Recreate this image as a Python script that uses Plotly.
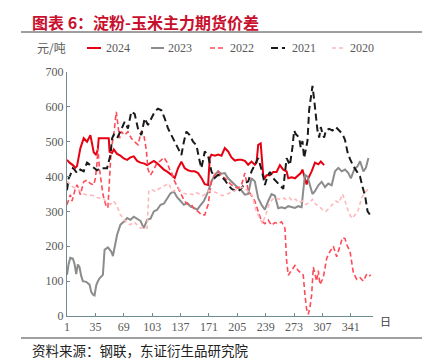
import plotly.graph_objects as go

# ---------------- data ----------------
d2024 = [1, 4, 8, 11, 13, 15, 17, 21, 25, 29, 31, 33, 36, 38, 39, 51, 52, 55, 57, 61, 65, 69, 73, 77, 81, 85, 89, 93,
         97, 101, 105, 109, 113, 117, 121, 124, 126, 130, 134, 138, 142, 146, 150, 154, 158, 162, 166, 170, 172, 174,
         178, 182, 186, 190, 194, 198, 202, 206, 210, 214, 218, 222, 226, 228, 230, 233, 236, 238, 240, 244, 248, 252,
         256, 260, 264, 266, 270, 274, 278, 281, 283, 286, 288, 290, 294, 298, 302, 305, 309]
v2024 = [448, 440, 433, 425, 430, 455, 481, 510, 500, 519, 495, 470, 462, 480, 510, 510, 471, 468, 478, 465, 460, 452,
         448, 455, 458, 445, 440, 438, 433, 440, 445, 438, 428, 420, 414, 410, 405, 396, 424, 443, 424, 418, 415, 415,
         410, 396, 378, 376, 453, 463, 460, 463, 460, 482, 472, 455, 446, 448, 448, 445, 434, 443, 434, 440, 491, 495,
         404, 396, 404, 404, 413, 413, 433, 420, 415, 395, 398, 395, 404, 410, 420, 395, 377, 395, 415, 440, 435, 443,
         433]

d2023 = [1, 3, 5, 8, 10, 12, 14, 16, 18, 20, 24, 28, 30, 32, 34, 36, 38, 40, 44, 46, 50, 54, 56, 59, 61, 65, 69, 73,
         77, 81, 85, 89, 93, 97, 101, 105, 109, 113, 117, 121, 125, 129, 133, 137, 141, 145, 149, 153, 157, 161, 165,
         170, 174, 178, 182, 186, 190, 194, 198, 202, 206, 210, 214, 218, 222, 226, 230, 234, 238, 242, 246, 250, 254,
         258, 262, 266, 270, 274, 278, 282, 284, 286, 289, 292, 295, 298, 302, 306, 310, 314, 318, 322, 326, 330, 334,
         338, 341, 345, 349, 352, 356, 359, 362]
v2023 = [118, 150, 167, 165, 150, 120, 148, 140, 115, 100, 98, 90, 69, 62, 59, 88, 100, 108, 118, 190, 197, 185, 172,
         207, 233, 262, 270, 281, 276, 285, 279, 273, 252, 276, 279, 300, 305, 319, 322, 338, 352, 357, 340, 330, 319,
         324, 314, 310, 305, 318, 330, 357, 386, 405, 415, 408, 410, 395, 385, 376, 367, 360, 348, 350, 395, 386, 338,
         319, 305, 330, 350, 345, 309, 312, 309, 315, 312, 310, 315, 312, 360, 405, 400, 375, 350, 358, 375, 385, 370,
         380, 375, 415, 425, 415, 420, 410, 395, 420, 430, 444, 415, 425, 453]

d2022 = [1, 3, 5, 7, 9, 11, 13, 15, 17, 19, 21, 25, 29, 33, 35, 37, 38, 40, 42, 44, 46, 48, 50, 52, 54, 57, 60, 62, 64,
         66, 70, 74, 78, 82, 86, 88, 90, 93, 96, 98, 101, 105, 109, 113, 117, 121, 124, 126, 128, 130, 134, 138, 142,
         146, 150, 154, 158, 162, 166, 170, 174, 178, 182, 186, 190, 194, 198, 202, 206, 210, 214, 218, 222, 226, 230,
         234, 238, 242, 246, 250, 254, 258, 262, 264, 266, 270, 274, 278, 282, 284, 286, 288, 290, 292, 294, 296, 298,
         300, 302, 304, 308, 312, 316, 320, 324, 328, 331, 334, 336, 340, 344, 348, 352, 356, 360, 363, 365]
v2022 = [319, 335, 348, 330, 350, 365, 376, 365, 348, 370, 385, 390, 380, 376, 395, 440, 481, 420, 380, 350, 330, 315,
         310, 390, 480, 520, 586, 548, 510, 529, 519, 529, 510, 500, 491, 510, 530, 520, 476, 420, 404, 420, 440, 445,
         455, 440, 420, 415, 395, 386, 367, 348, 329, 320, 319, 305, 300, 290, 290, 320, 386, 405, 415, 400, 396, 386,
         376, 370, 367, 376, 410, 360, 345, 330, 300, 272, 265, 275, 260, 268, 265, 270, 252, 160, 117, 130, 145, 130,
         120, 117, 60, 20, 5, 25, 60, 140, 120, 100, 130, 90, 110, 165, 185, 200, 170, 200, 225, 222, 205, 185, 124,
         105, 110, 100, 120, 115, 118]

d2021 = [1, 3, 5, 8, 10, 13, 17, 21, 25, 29, 33, 37, 41, 45, 49, 53, 55, 57, 61, 65, 70, 74, 78, 82, 86, 90, 94, 98,
         102, 106, 110, 114, 118, 122, 126, 130, 134, 138, 141, 144, 148, 152, 156, 158, 160, 162, 166, 170, 174, 178,
         182, 186, 190, 194, 198, 202, 206, 210, 214, 218, 222, 226, 230, 234, 238, 241, 244, 248, 252, 256, 260, 264,
         268, 271, 273, 275, 279, 281, 283, 285, 287, 289, 291, 293, 295, 297, 299, 301, 303, 305, 307, 309, 311, 315,
         319, 323, 327, 331, 334, 337, 340, 344, 348, 352, 355, 358, 361, 364]
v2021 = [361, 395, 405, 424, 420, 410, 420, 415, 440, 433, 424, 418, 424, 424, 424, 462, 510, 520, 510, 530, 557, 538,
         586, 580, 538, 519, 567, 548, 567, 586, 595, 590, 567, 538, 519, 500, 481, 462, 500, 529, 519, 500, 490, 462,
         443, 424, 472, 460, 415, 396, 405, 400, 390, 376, 365, 360, 357, 367, 380, 386, 415, 434, 453, 420, 376, 400,
         413, 395, 385, 375, 365, 453, 433, 483, 532, 522, 512, 483, 502, 453, 483, 502, 591, 630, 660, 621, 581, 532,
         512, 542, 522, 512, 532, 537, 532, 542, 532, 522, 505, 470, 450, 430, 415, 400, 370, 345, 300, 290]

d2020 = [1, 4, 8, 12, 16, 20, 25, 29, 33, 37, 41, 45, 49, 53, 57, 61, 65, 69, 73, 77, 81, 85, 89, 93, 97, 99, 103, 107,
         111, 115, 119, 123, 127, 131, 135, 139, 143, 147, 151, 155, 159, 163, 167, 171, 175, 179, 183, 187, 191, 195,
         199, 203, 207, 211, 215, 219, 223, 227, 231, 235, 239, 243, 247, 251, 255, 259, 263, 267, 271, 275, 279, 283,
         287, 291, 295, 299, 303, 307, 311, 315, 319, 323, 327, 331, 334, 338, 342, 346, 350, 354, 358, 362, 364]
v2020 = [387, 380, 370, 365, 360, 350, 348, 345, 345, 340, 338, 335, 325, 320, 330, 315, 290, 280, 265, 262, 270, 260,
         252, 255, 252, 360, 362, 357, 365, 370, 376, 380, 357, 360, 365, 355, 350, 352, 348, 355, 350, 345, 350, 360,
         357, 355, 350, 345, 348, 352, 355, 360, 365, 370, 365, 355, 345, 305, 285, 265, 290, 320, 335, 338, 335, 340,
         335, 340, 330, 335, 325, 330, 320, 325, 335, 320, 315, 305, 300, 310, 320, 330, 325, 350, 330, 300, 280, 290,
         305, 340, 355, 365, 370]

x_ticks = [1, 35, 69, 103, 137, 171, 205, 239, 273, 307, 341]
y_ticks = [0, 100, 200, 300, 400, 500, 600, 700]

series_names = ["2024", "2023", "2022", "2021", "2020"]
series_x = [d2024, d2023, d2022, d2021, d2020]
series_y = [v2024, v2023, v2022, v2021, v2020]

# ---------------- styles ----------------
styles = {
    "2024": dict(color="#E60012", width=2, dash="solid"),
    "2023": dict(color="#8C8C8C", width=2, dash="solid"),
    "2022": dict(color="#FF4B57", width=1.6, dash="5px,3px"),
    "2021": dict(color="#1A1A1A", width=2, dash="7px,4px"),
    "2020": dict(color="#FFB9BD", width=1.6, dash="4px,3px"),
}

W, H = 430, 359
L, R, T, B = 59, 65, 64, 51
pw, ph = W - L - R, H - T - B


def px(x):
    return (x - L) / pw


def py(y):
    return (H - B - y) / ph


fig = go.Figure()
for name, xs, ys in zip(series_names, series_x, series_y):
    s = styles[name]
    fig.add_trace(go.Scatter(x=xs, y=ys, mode="lines", name=name, showlegend=False,
                             line=dict(color=s["color"], width=s["width"], dash=s["dash"])))

axis_color = "#6F8C8C"
tick_font = dict(family="Liberation Serif, Times New Roman, serif", size=12, color="#595959")

fig.update_xaxes(range=[1, 367.5], tickmode="array", tickvals=x_ticks, ticktext=[str(t) for t in x_ticks],
                 showline=True, linecolor=axis_color, linewidth=1, ticks="inside", ticklen=3,
                 tickcolor=axis_color, showgrid=False, zeroline=False, tickfont=tick_font)
fig.update_yaxes(range=[0, 700], tickmode="array", tickvals=y_ticks, ticktext=[str(t) for t in y_ticks],
                 showline=True, linecolor=axis_color, linewidth=1, ticks="inside", ticklen=3,
                 tickcolor=axis_color, showgrid=False, zeroline=False, tickfont=tick_font)

shapes = []
annotations = []

# title rule and bottom rule
shapes.append(dict(type="line", xref="paper", yref="paper", x0=px(13), x1=px(424), y0=py(24), y1=py(24),
                   line=dict(color="#404040", width=1)))
shapes.append(dict(type="line", xref="paper", yref="paper", x0=px(13), x1=px(424), y0=py(330), y1=py(330),
                   line=dict(color="#404040", width=1)))

annotations.append(dict(text="<b>图表 6：淀粉-玉米主力期货价差</b>", xref="paper", yref="paper",
                        x=px(22), y=py(14), xanchor="left", yanchor="middle", showarrow=False,
                        font=dict(family="Noto Sans CJK SC", size=16, color="#C8102E")))
annotations.append(dict(text="资料来源：钢联，东证衍生品研究院", xref="paper", yref="paper",
                        x=px(22), y=py(342), xanchor="left", yanchor="middle", showarrow=False,
                        font=dict(family="Noto Sans CJK SC", size=13.5, color="#222222")))
annotations.append(dict(text="元/吨", xref="paper", yref="paper", x=px(27), y=py(40), xanchor="left",
                        yanchor="middle", showarrow=False,
                        font=dict(family="Noto Sans CJK SC", size=12, color="#595959")))
annotations.append(dict(text="日", xref="paper", yref="paper", x=px(377), y=py(313), xanchor="center",
                        yanchor="middle", showarrow=False,
                        font=dict(family="Noto Sans CJK SC", size=11, color="#404040")))

# manual legend
legend_pos = {"2024": (79, 93, 96), "2023": (143, 156, 158), "2022": (202, 217, 220),
              "2021": (263, 277, 282), "2020": (324, 337, 340)}
for name in series_names:
    s = styles[name]
    x0, x1, xt = legend_pos[name]
    shapes.append(dict(type="line", xref="paper", yref="paper", x0=px(x0), x1=px(x1), y0=py(40), y1=py(40),
                       line=dict(color=s["color"], width=s["width"], dash=s["dash"])))
    annotations.append(dict(text=name, xref="paper", yref="paper", x=px(xt), y=py(40), xanchor="left",
                            yanchor="middle", showarrow=False, font=tick_font))

fig.update_layout(width=W, height=H, margin=dict(l=L, r=R, t=T, b=B),
                  paper_bgcolor="white", plot_bgcolor="white", shapes=shapes, annotations=annotations,
                  showlegend=False)

fig.write_html("out.html")
